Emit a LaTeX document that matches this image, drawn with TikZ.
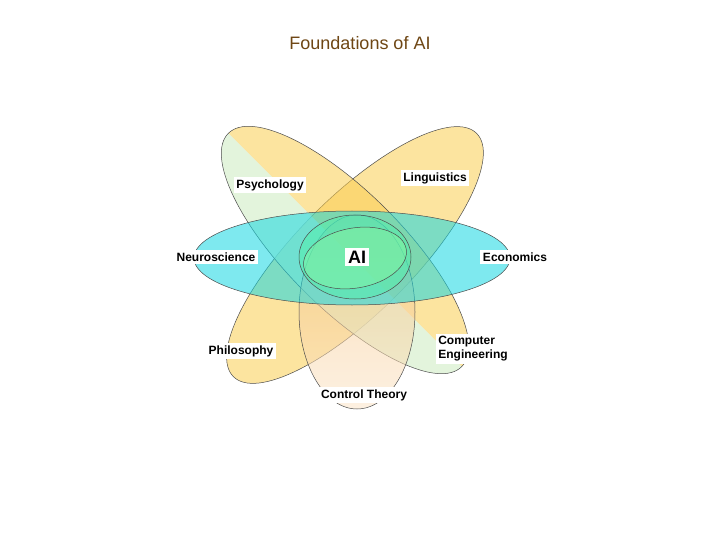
\documentclass[tikz,border=0pt]{standalone}
\usepackage{fontspec}
\setmainfont{Liberation Sans}
\begin{document}
\begin{tikzpicture}[x=1pt,y=-1pt,
  ell/.style={draw=black!70,line width=0.5pt,fill opacity=0.55},
  lab/.style={fill=white,font=\bfseries\fontsize{12}{14}\selectfont,inner sep=2.5pt}]
\definecolor{cy}{RGB}{20,215,225}
\definecolor{ye}{RGB}{250,205,80}
\definecolor{pg}{RGB}{215,240,205}
\definecolor{pe}{RGB}{245,190,120}
\definecolor{titlec}{RGB}{110,70,20}
\useasboundingbox (0,0) rectangle (720,540);
\node (title) at (360,43) {\color{titlec}\fontsize{18}{21}\selectfont Foundations of AI};
% Psychology / Computer Engineering
\draw[ell,fill=ye,rotate around={45:(355,255)}] (355,255) ellipse [x radius=172,y radius=58];
% Linguistics / Philosophy (two halves)
\begin{scope}
\clip (45,-50) -- (645,550) -- (645,-50) -- cycle;
\fill[ye,fill opacity=0.55,rotate around={-45:(345,250)}] (345,250) ellipse [x radius=165,y radius=58];
\end{scope}
\begin{scope}
\clip (45,-50) -- (645,550) -- (45,550) -- cycle;
\fill[pg,fill opacity=0.7,rotate around={-45:(345,250)}] (345,250) ellipse [x radius=165,y radius=58];
\end{scope}
\draw[draw=black!70,line width=0.5pt,rotate around={-45:(345,250)}] (345,250) ellipse [x radius=165,y radius=58];
% Control theory
\draw[ell,top color=pe,bottom color=pe!40] (357,312) ellipse [x radius=58,y radius=97];
% Neuroscience / Economics
\draw[ell,fill=cy] (352,258) ellipse [x radius=158,y radius=47];
% inner
\draw[ell,fill=cy!60!green!70] (355,257) ellipse [x radius=56,y radius=42];
\draw[ell,fill=green!40,fill opacity=0.3,rotate around={10:(355,258)}] (355,258) ellipse [x radius=52,y radius=30];
\node[lab] (psy) at (270,185) {Psychology};
\node[lab] (lin) at (435,178) {Linguistics};
\node[lab] (neu) at (216,257) {Neuroscience};
\node[lab] (eco) at (515,257) {Economics};
\node[lab,font=\bfseries\fontsize{18}{21}\selectfont,inner sep=3pt] (ai) at (357,257) {AI};
\node[lab] (phi) at (241,351) {Philosophy};
\node[lab,align=left] (ce) at (473,349) {Computer\\Engineering};
\node[lab] (ct) at (364,395) {Control Theory};
\end{tikzpicture}
\end{document}
